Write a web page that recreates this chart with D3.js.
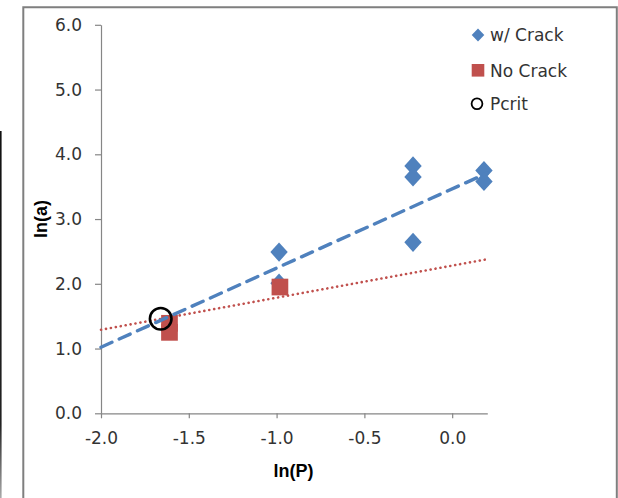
<!DOCTYPE html>
<html>
<head>
<meta charset="utf-8">
<script src="https://cdn.jsdelivr.net/npm/d3@7"></script>
<style>
  body { margin: 0; background: #fff; }
  svg { display: block; }
  text { font-family: "DejaVu Sans", "Liberation Sans", Arial, sans-serif; }
  text.axis-title { font-family: "Liberation Sans", Arial, sans-serif; font-weight: bold; }
</style>
</head>
<body>
<svg id="chart" width="618" height="498"></svg>
<script>
// Measured points: ln(P) vs ln(a)
const crackX = [-0.986, -0.986, -0.223, -0.223, -0.223, 0.181, 0.181];
const crackY = [2.49, 2.01, 3.82, 3.65, 2.64, 3.75, 3.58];
const noCrackX = [-1.61, -1.61, -0.981];
const noCrackY = [1.39, 1.25, 1.95];
const pcritX = [-1.66];
const pcritY = [1.46];

// Linear trendline end points
const crackTrendX = [-2.0, 0.2];
const crackTrendY = [1.02, 3.71];
const noCrackTrendX = [-2.0, 0.2];
const noCrackTrendY = [1.29, 2.38];

const xTicks = [-2.0, -1.5, -1.0, -0.5, 0.0];
const yTicks = [0, 1, 2, 3, 4, 5, 6];
const legendLabels = ["w/ Crack", "No Crack", "Pcrit"];

const BLUE = "#4F81BD", RED = "#C0504D", AXIS = "#868686", TXT = "#333333";
const FS = 17;

const svg = d3.select("#chart");

// Outer frame lines
const defs = svg.append("defs");
const grad = defs.append("linearGradient").attr("id", "edgeGrad")
  .attr("x1", 0).attr("y1", 0).attr("x2", 0).attr("y2", 1);
grad.append("stop").attr("offset", "0%").attr("stop-color", "#111");
grad.append("stop").attr("offset", "80%").attr("stop-color", "#222");
grad.append("stop").attr("offset", "100%").attr("stop-color", "#aaa");
svg.append("rect").attr("x", 0).attr("y", 131).attr("width", 1.6).attr("height", 367)
  .attr("fill", "url(#edgeGrad)");
svg.append("path").attr("d", "M23.3,498 V7.2 H616.8 V498")
  .attr("fill", "none").attr("stroke", "#7f7f7f").attr("stroke-width", 2);

const x = d3.scaleLinear().domain([-2, 0.2]).range([101, 487.3]);
const y = d3.scaleLinear().domain([0, 6]).range([413.3, 24.8]);
const fmt = d => d.toFixed(1);

// Axes
const yAxis = svg.append("g").attr("transform", `translate(${x(-2)},0)`)
  .call(d3.axisLeft(y).tickValues(yTicks).tickFormat(fmt)
    .tickSize(6).tickSizeOuter(0).tickPadding(13));
const xAxis = svg.append("g").attr("transform", `translate(0,${y(0)})`)
  .call(d3.axisBottom(x).tickValues(xTicks).tickFormat(fmt)
    .tickSize(5).tickSizeOuter(0).tickPadding(14));
[xAxis, yAxis].forEach(g => {
  g.select(".domain").attr("stroke", AXIS).attr("stroke-width", 1.2);
  g.selectAll(".tick line").attr("stroke", AXIS).attr("stroke-width", 1.2);
  g.selectAll(".tick text").attr("fill", TXT).attr("font-size", FS);
});

// Axis titles
svg.append("text").attr("class", "axis-title")
  .attr("x", 293.6).attr("y", 477).attr("text-anchor", "middle")
  .attr("font-size", 18).attr("fill", "#000").text("ln(P)");
svg.append("text").attr("class", "axis-title")
  .attr("transform", "translate(46.5,219) rotate(-90)")
  .attr("text-anchor", "middle").attr("font-size", 18)
  .attr("fill", "#000").text("ln(a)");

// Markers
const diamond = (w, h) => `M0,${-h} L${w},0 L0,${h} L${-w},0 Z`;
const plot = svg.append("g");
plot.selectAll("path.crack").data(d3.range(crackX.length)).join("path")
  .attr("class", "crack")
  .attr("transform", i => `translate(${x(crackX[i])},${y(crackY[i])})`)
  .attr("d", diamond(8.7, 9.6)).attr("fill", BLUE);
const sq = 16.7;
plot.selectAll("rect.nocrack").data(d3.range(noCrackX.length)).join("rect")
  .attr("class", "nocrack")
  .attr("x", i => x(noCrackX[i]) - sq / 2).attr("y", i => y(noCrackY[i]) - sq / 2)
  .attr("width", sq).attr("height", sq).attr("fill", RED);

// Trendlines
const trend = (xs, ys) => d3.line()(xs.map((v, i) => [x(v), y(ys[i])]));
svg.append("path").attr("d", trend(noCrackTrendX, noCrackTrendY))
  .attr("fill", "none").attr("stroke", RED).attr("stroke-width", 2.6)
  .attr("stroke-dasharray", "0.1 4.9").attr("stroke-linecap", "round");
svg.append("path").attr("d", trend(crackTrendX, crackTrendY))
  .attr("fill", "none").attr("stroke", BLUE).attr("stroke-width", 3.4)
  .attr("stroke-dasharray", "12 8").attr("stroke-linecap", "round");

// Critical point
svg.selectAll("circle.pcrit").data(d3.range(pcritX.length)).join("circle")
  .attr("class", "pcrit")
  .attr("cx", i => x(pcritX[i])).attr("cy", i => y(pcritY[i])).attr("r", 10.8)
  .attr("fill", "none").attr("stroke", "#000").attr("stroke-width", 2.6);

// Legend
const legend = svg.append("g");
const rowY = [35, 70.3, 103.7];
const mk = 478;
legend.append("path").attr("transform", `translate(${mk},${rowY[0]})`)
  .attr("d", diamond(6.3, 6.6)).attr("fill", BLUE);
legend.append("rect").attr("x", mk - 6.3).attr("y", rowY[1] - 6.3)
  .attr("width", 12.6).attr("height", 12.6).attr("fill", RED);
legend.append("circle").attr("cx", mk - 1).attr("cy", rowY[2]).attr("r", 5.4)
  .attr("fill", "none").attr("stroke", "#000").attr("stroke-width", 1.8);
legend.selectAll("text").data(legendLabels).join("text")
  .attr("x", 490).attr("y", (d, i) => rowY[i] + 6.3)
  .attr("font-size", FS).attr("fill", TXT).text(d => d);
</script>
</body>
</html>
